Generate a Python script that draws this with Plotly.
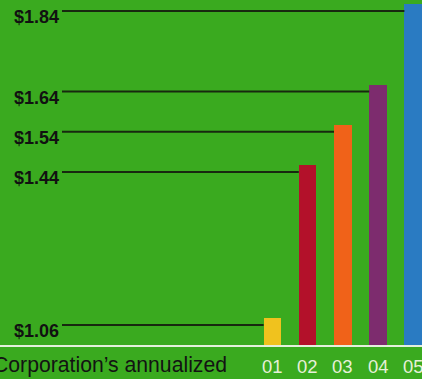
import plotly.graph_objects as go

# Data
categories = ["01", "02", "03", "04", "05"]
values = [1.06, 1.44, 1.54, 1.64, 1.84]
value_labels = ["$1.06", "$1.44", "$1.54", "$1.64", "$1.84"]
bar_colors = ["#f0c21e", "#b3112a", "#f06219", "#7d2c6e", "#2a7bc2"]
caption = "Corporation\u2019s annualized"

# Layout constants
W, H = 422, 379
plot_h = 345
x_min, x_max = -6.74, 5.25
y_min, y_max = 0.993, 1.85
bar_w = 0.5
px_per_x = W / (x_max - x_min)
px_per_y = plot_h / (y_max - y_min)
line_drop = 7 / px_per_y
line_start_x = x_min + 62 / px_per_x

bg = "#3aaa1f"
xs = list(range(1, len(categories) + 1))

fig = go.Figure()
fig.add_trace(go.Bar(
    x=xs, y=values, width=bar_w,
    marker=dict(color=bar_colors, line=dict(width=0)),
    hoverinfo="skip",
))

for i, v in zip(xs, values):
    fig.add_trace(go.Scatter(
        x=[line_start_x, i - bar_w / 2], y=[v - line_drop, v - line_drop],
        mode="lines", line=dict(color="#17280f", width=2),
        hoverinfo="skip", showlegend=False,
    ))

annotations = []
for v, lab in zip(values, value_labels):
    annotations.append(dict(
        x=12 / W, xref="paper", xanchor="left",
        y=v, yref="y", yanchor="middle", yshift=-13,
        text=lab, showarrow=False,
        font=dict(family="Liberation Sans", size=18, color="#111111", weight="bold"),
    ))
for i, c in zip(xs, categories):
    annotations.append(dict(
        x=i, xref="x", xanchor="center",
        y=0, yref="paper", yanchor="top", yshift=-9,
        text=c, showarrow=False,
        font=dict(family="Liberation Sans", size=18.5, color="#e6f0d8"),
    ))
annotations.append(dict(
    x=229 / W, xref="paper", xanchor="right",
    y=0, yref="paper", yanchor="top", yshift=-6,
    text=caption, showarrow=False,
    font=dict(family="Liberation Sans", size=21.2, color="#131313"),
))

fig.update_layout(
    width=W, height=H,
    margin=dict(l=0, r=0, t=0, b=H - plot_h),
    paper_bgcolor=bg, plot_bgcolor=bg,
    showlegend=False,
    bargap=0,
    annotations=annotations,
    xaxis=dict(
        range=[x_min, x_max],
        showgrid=False, zeroline=False, ticks="", showticklabels=False,
        showline=True, linecolor="#e4f0dc", linewidth=2,
        fixedrange=True,
    ),
    yaxis=dict(
        range=[y_min, y_max], showgrid=False, zeroline=False,
        showticklabels=False, ticks="", fixedrange=True,
    ),
)

fig.write_html("out.html")
